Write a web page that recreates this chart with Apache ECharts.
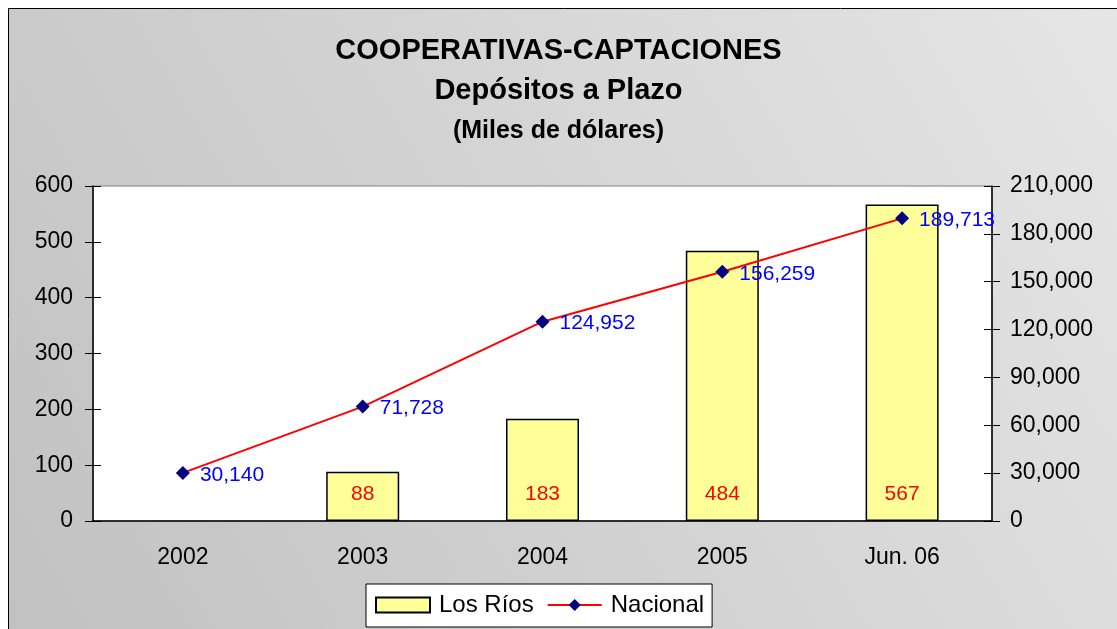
<!DOCTYPE html>
<html>
<head>
<meta charset="utf-8">
<script src="https://cdn.jsdelivr.net/npm/echarts@6/dist/echarts.min.js"></script>
<style>
  html, body { margin: 0; padding: 0; background: #fff; }
  #chart { width: 1117px; height: 629px; }
</style>
</head>
<body>
<div id="chart"></div>
<script>
// datos
const categorias = ['2002', '2003', '2004', '2005', 'Jun. 06']
const losRios = [null, 88, 183, 484, 567]
const nacional = [30140, 71728, 124952, 156259, 189713]
const ejeIzq = { min: 0, max: 600, interval: 100 }
const ejeDer = { min: 0, max: 210000, interval: 30000 }

const myChart = echarts.init(document.getElementById('chart'))

const fmt = v => String(v).replace(/\B(?=(\d{3})+(?!\d))/g, ',')
const fuente = 'Arial, "Liberation Sans", sans-serif'

let option = {
  backgroundColor: '#fff',
  animation: false,
  graphic: [
    {
      type: 'rect',
      z: -10,
      shape: { x: 8.5, y: 8.5, width: 1200, height: 700 },
      style: {
        stroke: '#000',
        lineWidth: 1,
        fill: new echarts.graphic.LinearGradient(0, 1, 1, 0, [
          { offset: 0, color: '#c0c0c0' },
          { offset: 1, color: '#e8e8e8' }
        ])
      }
    }
  ],
  title: [
    {
      text: 'COOPERATIVAS-CAPTACIONES',
      left: 'center', top: 31,
      textStyle: { fontFamily: fuente, fontSize: 29, fontWeight: 'bold', color: '#000' }
    },
    {
      text: 'Depósitos a Plazo',
      left: 'center', top: 71,
      textStyle: { fontFamily: fuente, fontSize: 29, fontWeight: 'bold', color: '#000' }
    },
    {
      text: '(Miles de dólares)',
      left: 'center', top: 114,
      textStyle: { fontFamily: fuente, fontSize: 25, fontWeight: 'bold', color: '#000' }
    }
  ],
  legend: {
    left: 366,
    top: 584,
    backgroundColor: '#fff',
    borderColor: '#000',
    borderWidth: 1,
    borderRadius: 0,
    padding: [9, 8, 10, 9],
    itemGap: 13,
    itemWidth: 54,
    itemHeight: 15,
    textStyle: { fontFamily: fuente, fontSize: 24, color: '#000', padding: [0, 0, 0, 4] },
    data: [
      { name: 'Los Ríos', icon: 'rect' },
      { name: 'Nacional' }
    ]
  },
  grid: {
    left: 93,
    right: 125,
    top: 186,
    bottom: 108,
    show: true,
    backgroundColor: '#fff',
    borderColor: '#808080',
    borderWidth: 1
  },
  xAxis: [
    {
      type: 'category',
      data: categorias,
      axisLine: { lineStyle: { color: '#000', width: 1.5 } },
      axisTick: { length: 9, lineStyle: { color: '#000' } },
      axisLabel: { margin: 25, fontFamily: fuente, fontSize: 23, color: '#000' }
    },
    {
      type: 'category',
      data: categorias,
      position: 'bottom',
      axisLine: { show: false },
      axisTick: { inside: true, length: 8, lineStyle: { color: '#000' } },
      axisLabel: { show: false }
    }
  ],
  yAxis: [
    {
      type: 'value',
      position: 'left',
      min: ejeIzq.min, max: ejeIzq.max, interval: ejeIzq.interval,
      splitLine: { show: false },
      axisLine: { show: true, lineStyle: { color: '#000', width: 1.5 } },
      axisTick: { show: true, length: 8, lineStyle: { color: '#000' } },
      axisLabel: { margin: 20, fontFamily: fuente, fontSize: 23, color: '#000' }
    },
    {
      type: 'value',
      position: 'right',
      min: ejeDer.min, max: ejeDer.max, interval: ejeDer.interval,
      splitLine: { show: false },
      axisLine: { show: true, lineStyle: { color: '#000', width: 1.5 } },
      axisTick: { show: true, length: 8, lineStyle: { color: '#000' } },
      axisLabel: { margin: 18, fontFamily: fuente, fontSize: 23, color: '#000', formatter: fmt }
    },
    {
      type: 'value',
      position: 'left',
      min: ejeIzq.min, max: ejeIzq.max, interval: ejeIzq.interval,
      splitLine: { show: false },
      axisLine: { show: false },
      axisTick: { show: true, inside: true, length: 8, lineStyle: { color: '#000' } },
      axisLabel: { show: false }
    },
    {
      type: 'value',
      position: 'right',
      min: ejeDer.min, max: ejeDer.max, interval: ejeDer.interval,
      splitLine: { show: false },
      axisLine: { show: false },
      axisTick: { show: true, inside: true, length: 8, lineStyle: { color: '#000' } },
      axisLabel: { show: false }
    }
  ],
  series: [
    {
      name: 'Los Ríos',
      type: 'bar',
      yAxisIndex: 0,
      barWidth: 73,
      data: losRios,
      itemStyle: { color: '#ffff99', borderColor: '#000', borderWidth: 1.5 },
      label: {
        show: true,
        position: 'insideBottom',
        distance: 16,
        fontFamily: fuente,
        fontSize: 21,
        color: '#ff0000'
      }
    },
    {
      name: 'Nacional',
      type: 'line',
      yAxisIndex: 1,
      data: nacional,
      symbol: 'diamond',
      symbolSize: 14,
      itemStyle: { color: '#000080' },
      lineStyle: { color: '#ff0000', width: 2 },
      label: {
        show: true,
        position: 'right',
        distance: 10,
        offset: [0, 2],
        fontFamily: fuente,
        fontSize: 21,
        color: '#0000ff',
        formatter: p => fmt(p.value)
      }
    }
  ]
}

myChart.setOption(option)
</script>
</body>
</html>
